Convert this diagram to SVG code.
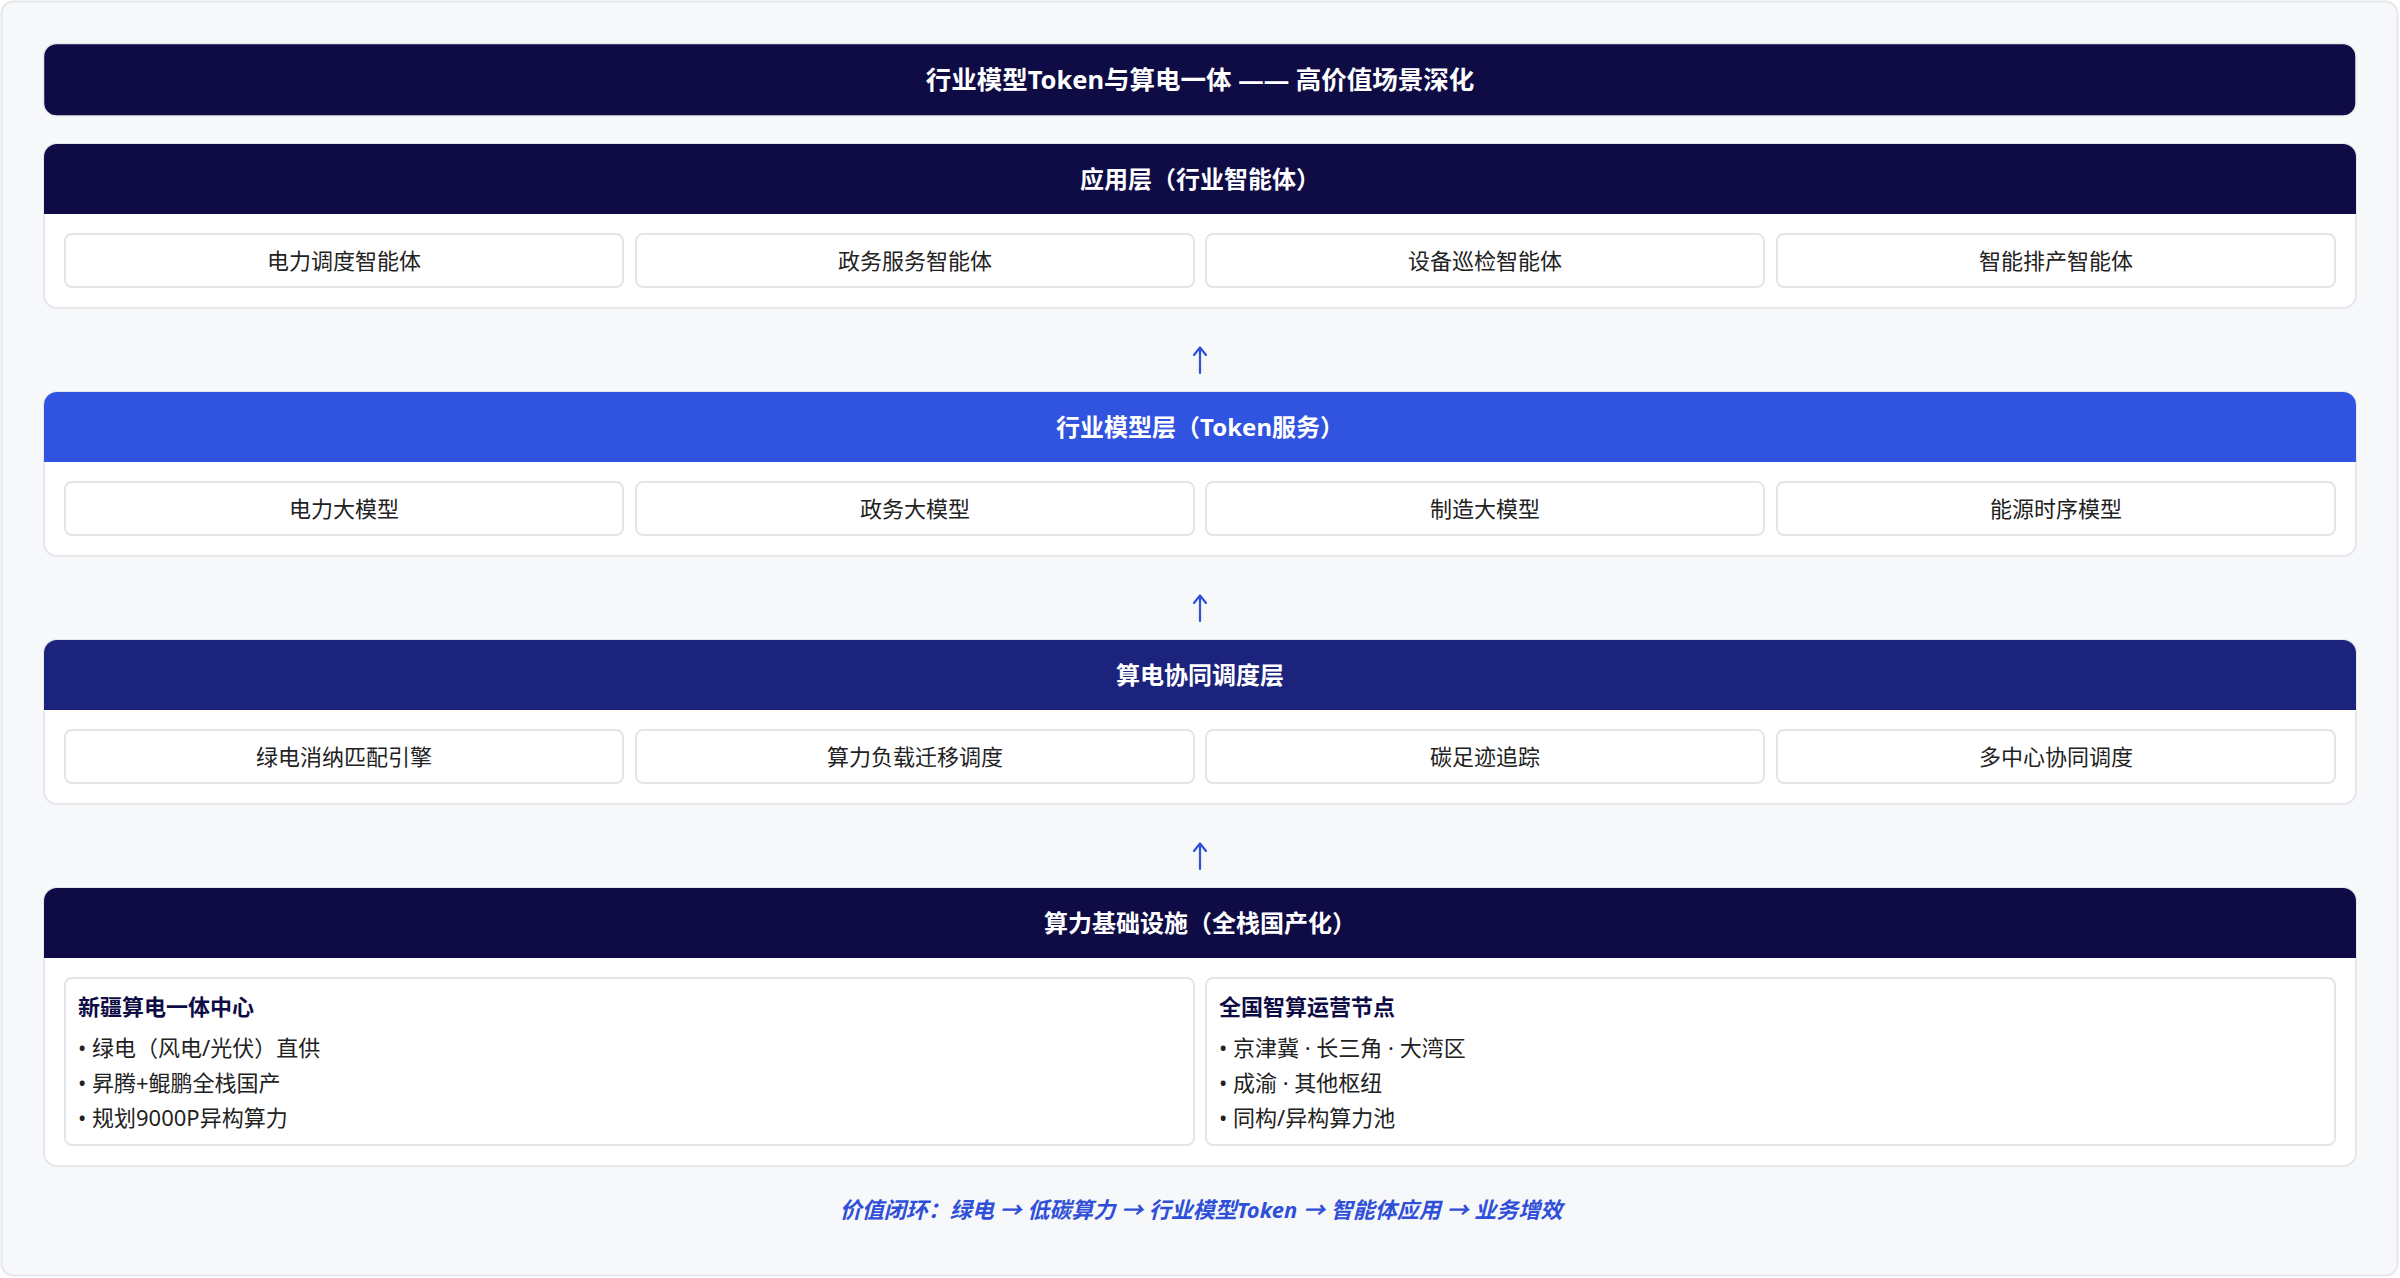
<svg xmlns="http://www.w3.org/2000/svg" width="2400" height="1278" viewBox="0 0 2400 1278">
  <defs>
    <style>
      text { font-family: "Noto Sans", "Noto Sans CJK SC", "Liberation Sans", sans-serif; }
      .bg { fill: #f7f8fa; stroke: #e5e7eb; stroke-width: 2; }
      .card { fill: #ffffff; stroke: #e5e7eb; stroke-width: 2; }
      .item { fill: #ffffff; stroke: #e3e5ea; stroke-width: 2; }
      .navy { fill: #0f0c45; }
      .blue { fill: #3053e0; }
      .indigo { fill: #1b237c; }
      .title { fill: #ffffff; font-size: 25.5px; font-weight: 700; text-anchor: middle; dominant-baseline: central; }
      .hdr { fill: #ffffff; font-size: 24px; font-weight: 700; text-anchor: middle; dominant-baseline: central; }
      .itxt { fill: #222222; font-size: 22px; font-weight: 400; text-anchor: middle; dominant-baseline: central; }
      .stitle { fill: #0f0c45; font-size: 22px; font-weight: 700; dominant-baseline: central; }
      .bul { fill: #222222; font-size: 22px; font-weight: 400; dominant-baseline: central; }
      .foot { fill: #2f4fd8; font-size: 22px; font-weight: 700; font-style: italic; text-anchor: middle; dominant-baseline: central; }
      .conn { fill: none; stroke: #3050e0; stroke-width: 2.2; stroke-linecap: round; stroke-linejoin: round; }
    </style>
  </defs>

  <rect class="bg" x="1.5" y="1.5" width="2396" height="1274" rx="12"/>

  <g id="title-bar">
    <rect class="navy" x="43.5" y="43.5" width="2312.5" height="72.5" rx="13" stroke="#e8e9f0" stroke-width="1.5"/>
    <text class="title" x="1200" y="79">行业模型Token与算电一体 —— 高价值场景深化</text>
  </g>

  <g id="layer-application">
    <rect class="card" x="44" y="144" width="2312" height="164" rx="13"/>
    <path class="navy" d="M44 214 V157 A13 13 0 0 1 57 144 H2343 A13 13 0 0 1 2356 157 V214 Z"/>
    <text class="hdr" x="1200" y="178">应用层（行业智能体）</text>
    <g id="app-1"><rect class="item" x="65" y="234" width="558" height="53" rx="7"/><text class="itxt" x="344" y="260">电力调度智能体</text></g>
    <g id="app-2"><rect class="item" x="636" y="234" width="558" height="53" rx="7"/><text class="itxt" x="915" y="260">政务服务智能体</text></g>
    <g id="app-3"><rect class="item" x="1206" y="234" width="558" height="53" rx="7"/><text class="itxt" x="1485" y="260">设备巡检智能体</text></g>
    <g id="app-4"><rect class="item" x="1777" y="234" width="558" height="53" rx="7"/><text class="itxt" x="2056" y="260">智能排产智能体</text></g>
  </g>

  <g id="layer-model">
    <rect class="card" x="44" y="392" width="2312" height="164" rx="13"/>
    <path class="blue" d="M44 462 V405 A13 13 0 0 1 57 392 H2343 A13 13 0 0 1 2356 405 V462 Z"/>
    <text class="hdr" x="1200" y="426">行业模型层（Token服务）</text>
    <g id="model-1"><rect class="item" x="65" y="482" width="558" height="53" rx="7"/><text class="itxt" x="344" y="508">电力大模型</text></g>
    <g id="model-2"><rect class="item" x="636" y="482" width="558" height="53" rx="7"/><text class="itxt" x="915" y="508">政务大模型</text></g>
    <g id="model-3"><rect class="item" x="1206" y="482" width="558" height="53" rx="7"/><text class="itxt" x="1485" y="508">制造大模型</text></g>
    <g id="model-4"><rect class="item" x="1777" y="482" width="558" height="53" rx="7"/><text class="itxt" x="2056" y="508">能源时序模型</text></g>
  </g>

  <g id="layer-scheduling">
    <rect class="card" x="44" y="640" width="2312" height="164" rx="13"/>
    <path class="indigo" d="M44 710 V653 A13 13 0 0 1 57 640 H2343 A13 13 0 0 1 2356 653 V710 Z"/>
    <text class="hdr" x="1200" y="674">算电协同调度层</text>
    <g id="sched-1"><rect class="item" x="65" y="730" width="558" height="53" rx="7"/><text class="itxt" x="344" y="756">绿电消纳匹配引擎</text></g>
    <g id="sched-2"><rect class="item" x="636" y="730" width="558" height="53" rx="7"/><text class="itxt" x="915" y="756">算力负载迁移调度</text></g>
    <g id="sched-3"><rect class="item" x="1206" y="730" width="558" height="53" rx="7"/><text class="itxt" x="1485" y="756">碳足迹追踪</text></g>
    <g id="sched-4"><rect class="item" x="1777" y="730" width="558" height="53" rx="7"/><text class="itxt" x="2056" y="756">多中心协同调度</text></g>
  </g>

  <g id="layer-infra">
    <rect class="card" x="44" y="888" width="2312" height="278" rx="13"/>
    <path class="navy" d="M44 958 V901 A13 13 0 0 1 57 888 H2343 A13 13 0 0 1 2356 901 V958 Z"/>
    <text class="hdr" x="1200" y="922">算力基础设施（全栈国产化）</text>
    <g id="infra-xinjiang">
      <rect class="item" x="65" y="978" width="1129" height="167" rx="7"/>
      <text class="stitle" x="78" y="1006">新疆算电一体中心</text>
      <text class="bul" x="78" y="1047">• 绿电（风电/光伏）直供</text>
      <text class="bul" x="78" y="1082">• 昇腾+鲲鹏全栈国产</text>
      <text class="bul" x="78" y="1117">• 规划9000P异构算力</text>
    </g>
    <g id="infra-national">
      <rect class="item" x="1206" y="978" width="1129" height="167" rx="7"/>
      <text class="stitle" x="1219" y="1006">全国智算运营节点</text>
      <text class="bul" x="1219" y="1047">• 京津冀 · 长三角 · 大湾区</text>
      <text class="bul" x="1219" y="1082">• 成渝 · 其他枢纽</text>
      <text class="bul" x="1219" y="1117">• 同构/异构算力池</text>
    </g>
  </g>

  <g id="connectors">
    <path class="conn" d="M1200 373 V348 M1194 355 L1200 347.5 L1206 355"/>
    <path class="conn" d="M1200 621 V596 M1194 603 L1200 595.5 L1206 603"/>
    <path class="conn" d="M1200 869 V844 M1194 851 L1200 843.5 L1206 851"/>
  </g>

  <g id="footer">
    <text class="foot" x="1201" y="1209">价值闭环：绿电 → 低碳算力 → 行业模型Token → 智能体应用 → 业务增效</text>
  </g>
</svg>
